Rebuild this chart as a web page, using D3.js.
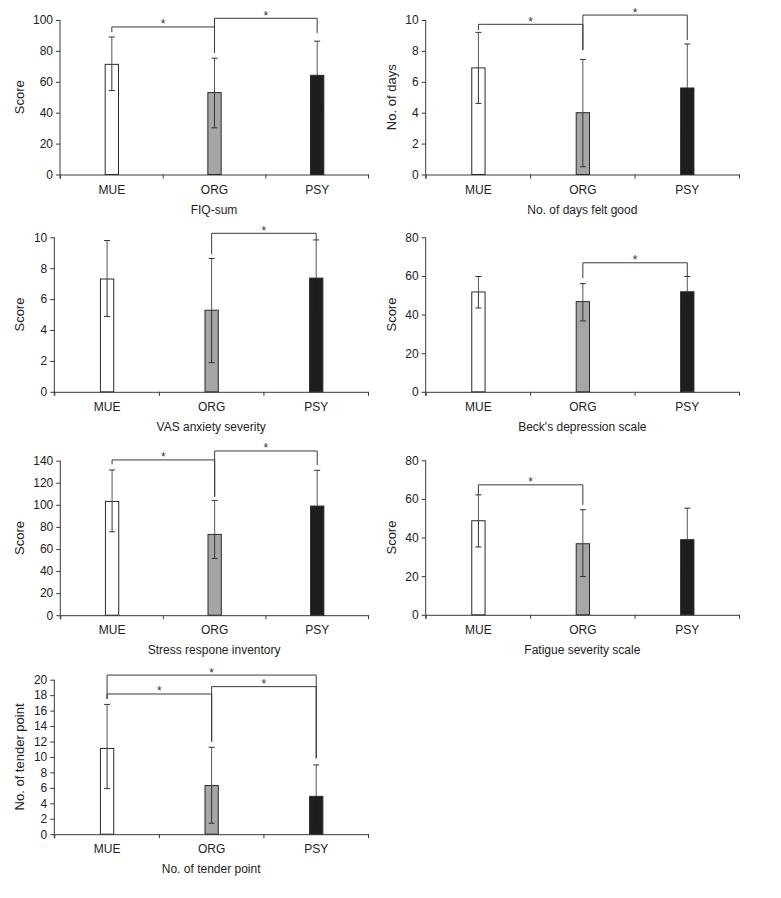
<!DOCTYPE html>
<html>
<head>
<meta charset="utf-8">
<script src="https://cdn.jsdelivr.net/npm/d3@7"></script>
<style>
  html, body { margin: 0; padding: 0; background: #fff; }
  svg { display: block; font-family: "Liberation Sans", Arial, Helvetica, sans-serif; }
</style>
</head>
<body>
<svg id="chart" width="781" height="898"></svg>
<script>
// ---------- DATA ----------
const categories = ["MUE", "ORG", "PSY"];
const panelTitles = ["FIQ-sum", "No. of days felt good", "VAS anxiety severity", "Beck's depression scale",
                     "Stress respone inventory", "Fatigue severity scale", "No. of tender point"];
const yTitles = ["Score", "No. of days", "Score", "Score", "Score", "Score", "No. of tender point"];
const yMax = [100, 10, 10, 80, 140, 80, 20];
const yStep = [20, 2, 2, 20, 20, 20, 2];
const means = [
  [71.3, 53.0, 64.2],
  [6.9, 4.0, 5.6],
  [7.3, 5.28, 7.36],
  [51.7, 46.7, 51.8],
  [103.1, 73.2, 98.9],
  [48.7, 36.8, 38.9],
  [11.1, 6.3, 4.9]
];
const errLow = [
  [54.3, 30.2, 42.0],
  [4.6, 0.5, 2.75],
  [4.87, 1.89, 4.9],
  [43.4, 36.7, 43.9],
  [75.6, 51.4, 66.5],
  [35.1, 19.8, 22.6],
  [5.9, 1.42, 0.8]
];
const errHigh = [
  [89.0, 75.3, 86.3],
  [9.2, 7.45, 8.45],
  [9.79, 8.63, 9.83],
  [59.7, 56.0, 59.7],
  [131.6, 104.0, 131.3],
  [62.1, 54.4, 55.2],
  [16.8, 11.25, 8.97]
];
// significance brackets: [fromIndex, toIndex, level, fromLegEnd, toLegEnd] (data units)
const brackets = [
  [[0, 1, 95.5, 92.2, 78.8], [1, 2, 101.1, 78.8, 91.5]],
  [[0, 1, 9.72, 9.35, 8.06], [1, 2, 10.32, 8.06, 8.7]],
  [[1, 2, 10.26, 8.9, 9.83]],
  [[1, 2, 66.8, 58.9, 59.7]],
  [[0, 1, 140.7, 136.7, 107.4], [1, 2, 148.8, 107.4, 136.1]],
  [[0, 1, 67.3, 62.1, 56.9]],
  [[0, 1, 18.15, 17.5, 11.98], [1, 2, 19.1, 11.98, 9.83], [0, 2, 20.6, 17.5, 9.83]]
];
const barColors = ["#ffffff", "#a6a6a6", "#1e1e1e"];

// ---------- LAYOUT ----------
const layout = [
  {x0: 60,    x1: 368, top: 20,    titleX: 24},
  {x0: 425.7, x1: 739, top: 20,    titleX: 396},
  {x0: 54.3,  x1: 368, top: 237.3, titleX: 24},
  {x0: 425.7, x1: 739, top: 237.3, titleX: 396},
  {x0: 60.3,  x1: 368, top: 460.7, titleX: 24},
  {x0: 425.7, x1: 739, top: 460.3, titleX: 396},
  {x0: 54.3,  x1: 368, top: 679.7, titleX: 24}
];
const plotH = 154.5;
const svg = d3.select("#chart");
const lineCol = "#3a3a3a";

layout.forEach((L, p) => {
  const g = svg.append("g");
  const y = d3.scaleLinear().domain([0, yMax[p]]).range([L.top + plotH, L.top]);
  const x = d3.scaleBand().domain(categories).range([L.x0, L.x1]).paddingInner(0).paddingOuter(0);
  const xb = d3.scaleLinear().domain([0, 3]).range([L.x0, L.x1]);
  const barW = 13.3;
  const cx = c => x(c) + x.bandwidth() / 2 + 0.5;

  // Y axis
  const yAxis = d3.axisLeft(y).tickValues(d3.range(0, yMax[p] + 1e-9, yStep[p]))
    .tickSize(4).tickSizeOuter(0).tickPadding(3).tickFormat(d3.format("d"));
  const ya = g.append("g").attr("transform", `translate(${L.x0},0)`).call(yAxis);
  ya.select(".domain").attr("stroke", lineCol).attr("d", `M0,${L.top}V${L.top + plotH + 4}`);
  ya.selectAll(".tick line").attr("stroke", lineCol);
  ya.selectAll(".tick text").attr("fill", "#222").style("font-size", "12px")
    .style("font-family", "Liberation Sans, Arial, sans-serif");

  // X axis (boundary ticks)
  const xAxis = d3.axisBottom(xb).tickValues([0, 1, 2, 3]).tickFormat("").tickSize(4).tickSizeOuter(0);
  const xa = g.append("g").attr("transform", `translate(0,${L.top + plotH})`).call(xAxis);
  xa.select(".domain").attr("stroke", lineCol);
  xa.selectAll(".tick line").attr("stroke", lineCol);

  // Category labels
  g.selectAll("text.cat").data(categories).enter().append("text")
    .attr("class", "cat")
    .attr("x", d => cx(d)).attr("y", L.top + plotH + 19)
    .attr("text-anchor", "middle").attr("fill", "#222")
    .style("font-size", "12px").text(d => d);

  // Panel title
  g.append("text").attr("x", (L.x0 + L.x1) / 2).attr("y", L.top + plotH + 39)
    .attr("text-anchor", "middle").attr("fill", "#222").style("font-size", "12px")
    .text(panelTitles[p]);

  // Y title
  g.append("text")
    .attr("transform", `translate(${L.titleX},${L.top + plotH / 2}) rotate(-90)`)
    .attr("text-anchor", "middle").attr("fill", "#222").style("font-size", "13px")
    .text(yTitles[p]);

  // Bars
  g.selectAll("rect.bar").data(categories).enter().append("rect")
    .attr("class", "bar")
    .attr("x", d => cx(d) - barW / 2)
    .attr("y", (d, i) => y(means[p][i]))
    .attr("width", barW)
    .attr("height", (d, i) => y(0) - y(means[p][i]))
    .attr("fill", (d, i) => barColors[i])
    .attr("stroke", "#2a2a2a").attr("stroke-width", 1);

  // Error bars (part above bar in grey, part inside bar dark)
  const capW = 3;
  categories.forEach((c, i) => {
    const xc = cx(c);
    const yTop = y(means[p][i]);
    const inner = i === 2 ? "#1e1e1e" : "#333";
    g.append("line").attr("x1", xc).attr("x2", xc).attr("y1", yTop).attr("y2", y(errHigh[p][i]))
      .attr("stroke", "#555");
    g.append("line").attr("x1", xc - capW).attr("x2", xc + capW).attr("y1", y(errHigh[p][i])).attr("y2", y(errHigh[p][i]))
      .attr("stroke", "#333");
    g.append("line").attr("x1", xc).attr("x2", xc).attr("y1", yTop).attr("y2", y(errLow[p][i]))
      .attr("stroke", inner);
    g.append("line").attr("x1", xc - capW).attr("x2", xc + capW).attr("y1", y(errLow[p][i])).attr("y2", y(errLow[p][i]))
      .attr("stroke", inner);
  });

  // Significance brackets
  brackets[p].forEach(b => {
    const xa1 = cx(categories[b[0]]), xa2 = cx(categories[b[1]]);
    const yl = y(b[2]);
    g.append("path")
      .attr("d", `M${xa1},${y(b[3])}V${yl}H${xa2}V${y(b[4])}`)
      .attr("fill", "none").attr("stroke", "#3a3a3a").attr("stroke-width", 1);
    g.append("text").attr("x", (xa1 + xa2) / 2).attr("y", yl + 1.5)
      .attr("text-anchor", "middle").attr("fill", "#333").style("font-size", "12px").text("*");
  });
});
</script>
</body>
</html>
